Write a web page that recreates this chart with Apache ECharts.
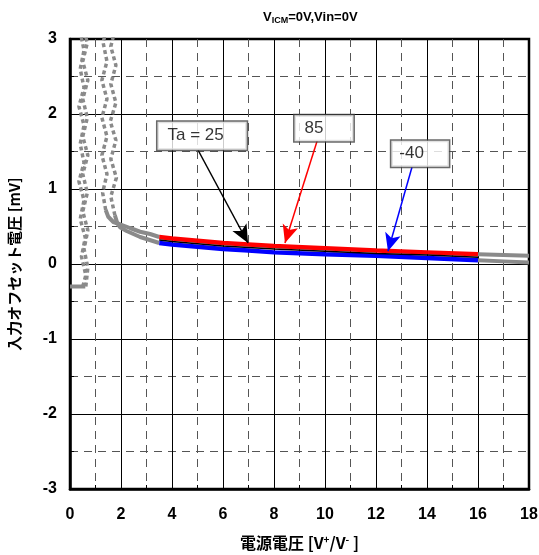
<!DOCTYPE html>
<html><head><meta charset="utf-8">
<script src="https://cdn.jsdelivr.net/npm/echarts@6/dist/echarts.min.js"></script>
<style>html,body{margin:0;padding:0;background:#fff}#c{width:539px;height:555px}</style>
</head><body><div id="c"></div>
<script>
// Supply voltage [V] for the measured temperature curves
const vcc = [3.5, 4, 5, 6, 7, 8, 10, 12, 14, 16];
const offset25 = [0.32, 0.30, 0.27, 0.24, 0.22, 0.20, 0.17, 0.14, 0.12, 0.09];
const offset85 = [0.36, 0.34, 0.31, 0.28, 0.26, 0.24, 0.21, 0.18, 0.155, 0.13];
const offsetM40 = [0.28, 0.26, 0.23, 0.20, 0.18, 0.155, 0.13, 0.11, 0.08, 0.05];
// gray extensions (outside guaranteed range)
const grayUpperLow = [[1.40,0.72],[1.50,0.63],[1.70,0.56],[1.96,0.53],[2.35,0.48],[2.75,0.43],[3.14,0.40],[3.5,0.36]];
const grayLowerLow = [[1.76,0.65],[1.86,0.54],[1.96,0.49],[2.22,0.44],[2.75,0.36],[3.5,0.28]];
const grayUpperHigh = [[16,0.13],[17,0.12],[18,0.11]];
const grayLowerHigh = [[16,0.05],[17,0.035],[18,0.02]];
const grayFloor = [[0,-0.30],[0.6,-0.30]];
// dotted unstable-region traces
const dotA = [[0.5,-0.30],[0.62,-0.15],[0.45,0.1],[0.6,0.35],[0.4,0.6],[0.55,0.85],[0.35,1.1],[0.55,1.35],[0.4,1.6],[0.55,1.85],[0.35,2.1],[0.55,2.35],[0.4,2.6],[0.55,2.85],[0.4,3.1]];
const dotB = [[0.62,-0.30],[0.7,-0.05],[0.55,0.2],[0.7,0.45],[0.5,0.7],[0.68,0.95],[0.5,1.2],[0.7,1.45],[0.5,1.7],[0.68,1.95],[0.5,2.2],[0.7,2.45],[0.5,2.7],[0.68,2.95],[0.55,3.1]];
const dotC = [[1.40,0.72],[1.28,0.95],[1.45,1.2],[1.25,1.45],[1.45,1.7],[1.25,1.95],[1.45,2.2],[1.25,2.45],[1.45,2.7],[1.3,2.95],[1.4,3.1]];
const dotD = [[1.76,0.65],[1.6,0.9],[1.82,1.15],[1.6,1.4],[1.8,1.65],[1.58,1.9],[1.8,2.15],[1.6,2.4],[1.8,2.65],[1.6,2.9],[1.75,3.1]];
// axis ticks
const xTicks = [0,2,4,6,8,10,12,14,16,18];
const yTicks = [-3,-2,-1,0,1,2,3];
// annotations
const annoText = ['Ta = 25', '85', '-40'];
const annoPos = [[5.18,1.71],[9.96,1.81],[13.73,1.47]];
const annoPad = [[4,23,4,10],[3,30,3,10],[3,25,3,8]];
const arrowFrom = [[5.02,1.52],[9.69,1.64],[13.41,1.29]];
const arrowTo = [[6.98,0.28],[8.43,0.28],[12.47,0.17]];
const arrowColor = ['#000','#ff0000','#0000ff'];

const chart = echarts.init(document.getElementById('c'));
const pair = (xs, ys) => xs.map((x,i)=>[x, ys[i]]);
const gray = '#8a8a8a';
function lineS(data, color, width, type, z){
  return {type:'line', data, showSymbol:false, symbol:'none', silent:true, z:z||3,
    lineStyle:{color, width, type:type||'solid', cap:'butt'}, animation:false};
}
const dot = [4,3];
const series = [
  lineS(grayUpperLow, gray, 4), lineS(grayLowerLow, gray, 4),
  lineS(grayUpperHigh, gray, 4), lineS(grayLowerHigh, gray, 4),
  lineS(grayFloor, gray, 4),
  lineS(dotA, gray, 3.5, dot), lineS(dotB, gray, 3.5, dot),
  lineS(dotC, gray, 3.5, dot), lineS(dotD, gray, 3.5, dot),
  lineS(pair(vcc, offset85), '#ff0000', 4.5, 'solid', 4),
  lineS(pair(vcc, offsetM40), '#0000ff', 4.5, 'solid', 4),
  lineS(pair(vcc, offset25), '#000000', 1.5, 'solid', 5),
];
// arrows
arrowFrom.forEach((f,i)=>{
  series.push({type:'line', data:[], z:6, animation:false,
    markLine:{silent:true, symbol:['none','arrow'], symbolSize:[12,18], animation:false,
      label:{show:false}, lineStyle:{color:arrowColor[i], width:1.5, type:'solid'},
      data:[[{coord:f},{coord:arrowTo[i]}]]}});
});
// labels
series.push({type:'scatter', symbolSize:0, z:7, animation:false, silent:true,
  data: annoPos.map((p,i)=>({value:p, label:{padding:annoPad[i]}})),
  label:{show:true, position:'inside', formatter:(p)=>annoText[p.dataIndex],
    color:'#000', fontFamily:'Liberation Sans, Arial, sans-serif', fontSize:17,
    backgroundColor:'#fff', borderColor:'#444', borderWidth:1.5, lineHeight:20}});

chart.setOption({
  animation:false,
  backgroundColor:'#fff',
  title:{left:258, top:5, text:'{a|V}{b|ICM}{a|=0V,Vin=0V}',
    textStyle:{rich:{
      a:{fontFamily:'Liberation Sans, Arial', fontWeight:'bold', fontSize:13, color:'#000'},
      b:{fontFamily:'Liberation Sans, Arial', fontWeight:'bold', fontSize:9, color:'#000', padding:[6,0,0,0]}}}},
  grid:{left:70, right:10, top:39, bottom:66, containLabel:false, outerBoundsMode:'none',
    show:true, borderColor:'#000', borderWidth:2.5, backgroundColor:'transparent'},
  xAxis:{type:'value', min:0, max:18, interval:2,
    name:'{a|電源電圧 [V}{s|+}{a|/V}{s|-}{a| ]}', nameLocation:'middle', nameGap:45,
    nameTextStyle:{rich:{
      a:{fontFamily:'Noto Sans CJK JP', fontWeight:'bold', fontSize:16, color:'#000'},
      s:{fontFamily:'Noto Sans CJK JP', fontWeight:'bold', fontSize:10, color:'#000', padding:[0,0,8,0]}}},
    axisLine:{show:true, onZero:false, lineStyle:{color:'#000', width:2.5}},
    axisTick:{show:true, inside:true, length:6, lineStyle:{color:'#000', width:1}},
    minorTick:{show:true, splitNumber:2, length:4, lineStyle:{color:'#000'}},
    axisLabel:{margin:18, fontFamily:'Liberation Sans, Arial', fontWeight:'bold', fontSize:16, color:'#000',
      formatter:(v)=> xTicks.includes(v) ? String(v) : ''},
    splitLine:{show:true, lineStyle:{color:'#000', width:1}},
    minorSplitLine:{show:true, lineStyle:{color:'#555', width:1, type:[8,6]}}},
  yAxis:{type:'value', min:-3, max:3, interval:1,
    name:'入力オフセット電圧 [mV]', nameLocation:'middle', nameGap:48, nameRotate:90,
    nameTextStyle:{fontFamily:'Noto Sans CJK JP', fontWeight:'bold', fontSize:15, color:'#000'},
    axisLine:{show:true, onZero:false, lineStyle:{color:'#000', width:2.5}},
    axisTick:{show:true, inside:true, length:6, lineStyle:{color:'#000', width:1}},
    minorTick:{show:true, splitNumber:2, length:4, lineStyle:{color:'#000'}},
    axisLabel:{margin:13, fontFamily:'Liberation Sans, Arial', fontWeight:'bold', fontSize:16, color:'#000',
      formatter:(v)=> yTicks.includes(v) ? String(v) : ''},
    splitLine:{show:true, lineStyle:{color:'#000', width:1}},
    minorSplitLine:{show:true, lineStyle:{color:'#555', width:1, type:[8,6]}}},
  series
});
</script></body></html>
